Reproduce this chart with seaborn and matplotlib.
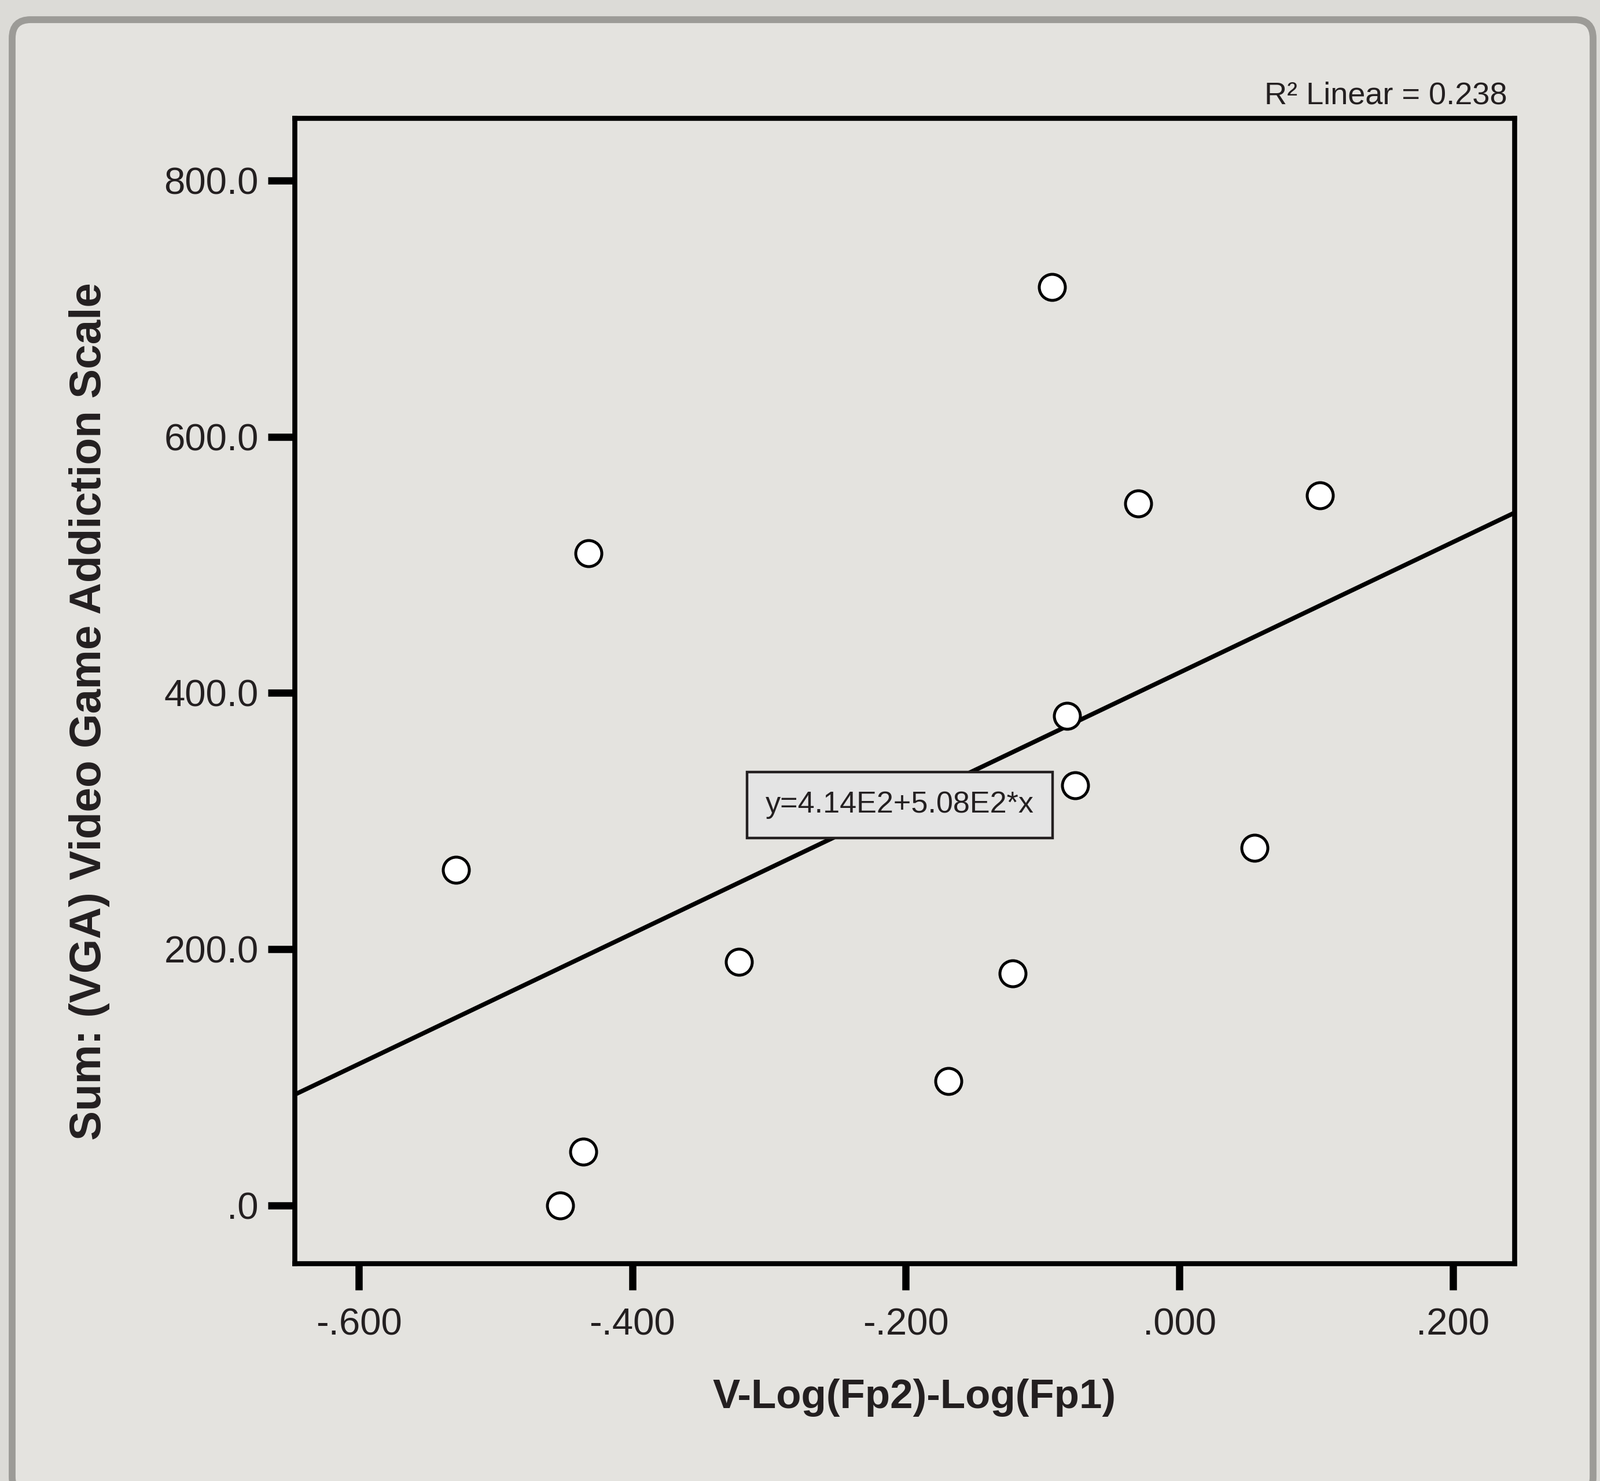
import pandas as pd
import seaborn as sns
import matplotlib.pyplot as plt
from matplotlib.patches import FancyBboxPatch
from matplotlib.transforms import IdentityTransform
from matplotlib.ticker import FuncFormatter

# valores
x_vals = [-0.093, -0.030, 0.103, -0.432, -0.082, -0.076, -0.529, 0.055, -0.322, -0.122, -0.169, -0.436, -0.453]
y_vals = [717, 548, 554, 509, 382, 328, 262, 279, 190, 181, 97, 42, 0]
x_ticks = [-0.6, -0.4, -0.2, 0.0, 0.2]
y_ticks = [0, 200, 400, 600, 800]
r2_text = "R\u00b2 Linear = 0.238"
eq_text = "y=4.14E2+5.08E2*x"
x_label = "V-Log(Fp2)-Log(Fp1)"
y_label = "Sum: (VGA) Video Game Addiction Scale"

df = pd.DataFrame({"x": x_vals, "y": y_vals})

sns.set_style("white")
plt.rcParams['font.family'] = ['Liberation Sans', 'DejaVu Sans']
TXT = '#231f20'


def spss_fmt(decimals):
    def f(v, pos):
        s = f"{v:.{decimals}f}"
        if s.startswith("0."):
            s = s[1:]
        elif s.startswith("-0."):
            s = "-" + s[2:]
        return s
    return FuncFormatter(f)


fig = plt.figure(figsize=(27.65, 25.59), dpi=100, facecolor='#dcdbd7')
# panel redondeado de fondo
fig.add_artist(FancyBboxPatch((21, -25), 2732, 2550,
                              boxstyle="round,pad=0,rounding_size=32",
                              transform=IdentityTransform(),
                              facecolor='#e4e3df', edgecolor='#9c9b97',
                              lw=8.5, zorder=0))

ax = fig.add_axes([0.1841, 0.1469, 0.7624, 0.7734])
ax.set_facecolor('none')
ax.set_xlim(-0.647, 0.245)
ax.set_ylim(-45.4, 848.8)

sns.regplot(data=df, x="x", y="y", ax=ax, ci=None, truncate=False, scatter=False,
            line_kws=dict(color='black', lw=5.5, zorder=2))
sns.scatterplot(data=df, x="x", y="y", ax=ax, s=1050, color='white',
                edgecolor='black', linewidth=3.6, zorder=3, legend=False)

ax.set_xlim(-0.647, 0.245)
ax.set_ylim(-45.4, 848.8)
ax.set_xticks(x_ticks)
ax.set_yticks(y_ticks)
ax.xaxis.set_major_formatter(spss_fmt(3))
ax.yaxis.set_major_formatter(spss_fmt(1))

for sp in ax.spines.values():
    sp.set_linewidth(6.2)
    sp.set_color('black')
ax.tick_params(axis='both', direction='out', length=33, width=9, color='black',
               labelsize=47, labelcolor=TXT, bottom=True, left=True)
ax.tick_params(axis='x', pad=22)
ax.tick_params(axis='y', pad=12)

ax.text(-0.2044, 312.5, eq_text, ha='center', va='center', fontsize=37.5, color=TXT,
        zorder=4, bbox=dict(boxstyle='square,pad=0.62', fc='#e4e4e4', ec=TXT, lw=3.2))

fig.text(2605 / 2765, (2559 - 179) / 2559, r2_text, ha='right', va='baseline',
         fontsize=39, color=TXT)

ax.set_xlabel(x_label, fontsize=51, fontweight='bold', color=TXT)
ax.xaxis.set_label_coords(0.508, -0.1006)
ax.set_ylabel(y_label, fontsize=55, fontweight='bold', color=TXT)
ax.yaxis.set_label_coords(-0.1513, 0.482)

fig.savefig("out.png", dpi=100, facecolor=fig.get_facecolor())
